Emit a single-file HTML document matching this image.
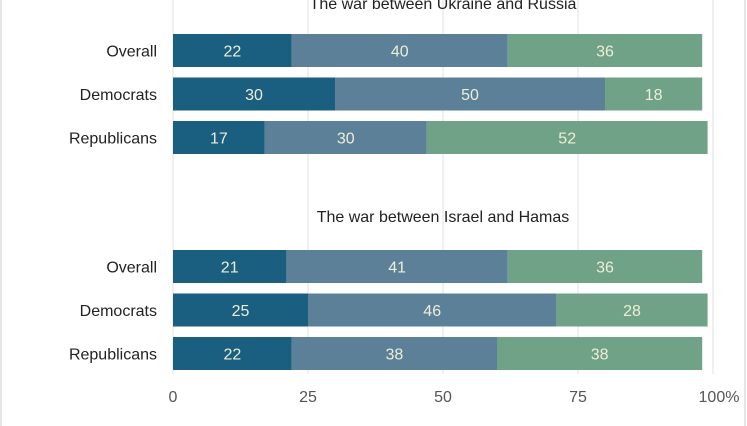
<!DOCTYPE html>
<html><head><meta charset="utf-8"><style>
html,body{margin:0;padding:0;background:#fff;}
svg{display:block;font-family:"Liberation Sans",sans-serif;}
</style></head><body>
<svg id="chart" width="747" height="426" viewBox="0 0 747 426">
<rect x="1" y="-2" width="744" height="440" fill="none" stroke="#ddd" stroke-width="1.5"/>
<g id="grid"></g><g id="bars"></g><g id="labels"></g>
</svg>
<script>
const groups = ["The war between Ukraine and Russia","The war between Israel and Hamas"];
const categories = ["Overall","Democrats","Republicans"];
const seriesA = [[22,30,17],[21,25,22]];
const seriesB = [[40,50,30],[41,46,38]];
const seriesC = [[36,18,52],[36,28,38]];
const ticks = [0,25,50,75,100];
const tickLabels = ["0","25","50","75","100%"];
const NS="http://www.w3.org/2000/svg";
const svg=document.getElementById('chart');
const x0=173, x1=713;
const xs=v=>x0+(x1-x0)*v/100;
const groupTop=[34,250], rowStep=43.5, barH=33;
const colors=["#1a5e80","#5b8098","#6fa287"];
function mk(tag,attrs,parent,text){const e=document.createElementNS(NS,tag);for(const k in attrs)e.setAttribute(k,attrs[k]);if(text!=null)e.textContent=text;parent.appendChild(e);return e;}
const grid=document.getElementById('grid'),bars=document.getElementById('bars'),labels=document.getElementById('labels');
ticks.forEach((t,i)=>{
  const l=mk('line',{x1:xs(t),x2:xs(t),y1:0,y2:374,stroke:'#e0e0e0','stroke-width':1},grid);
  
  
  const tx=mk('text',{x:xs(t)+(i==ticks.length-1?6:0),y:402,'text-anchor':'middle','font-size':16,fill:'#555'},labels,tickLabels[i]);
  
  
});
groups.forEach((g,gi)=>{
  const tt=mk('text',{x:443,y:gi==0?9:222,'text-anchor':'middle','font-size':16,fill:'#222'},labels,g);
  
  
  categories.forEach((c,ci)=>{
    const y=groupTop[gi]+ci*rowStep;
    const cl=mk('text',{x:157,y:y+barH/2+6,'text-anchor':'end','font-size':16,fill:'#222'},labels,c);
    
    
    const vals=[seriesA[gi][ci],seriesB[gi][ci],seriesC[gi][ci]];
    let acc=0;
    vals.forEach((v,si)=>{
      const r=mk('rect',{x:xs(acc),y:y,width:xs(acc+v)-xs(acc),height:barH,fill:colors[si]},bars);
      
      
      const vt=mk('text',{x:(xs(acc)+xs(acc+v))/2,y:y+barH/2+6,'text-anchor':'middle','font-size':16,fill:'#eeeed8'},labels,String(v));
      
      
      acc+=v;
    });
  });
});
</script>
</body></html>
